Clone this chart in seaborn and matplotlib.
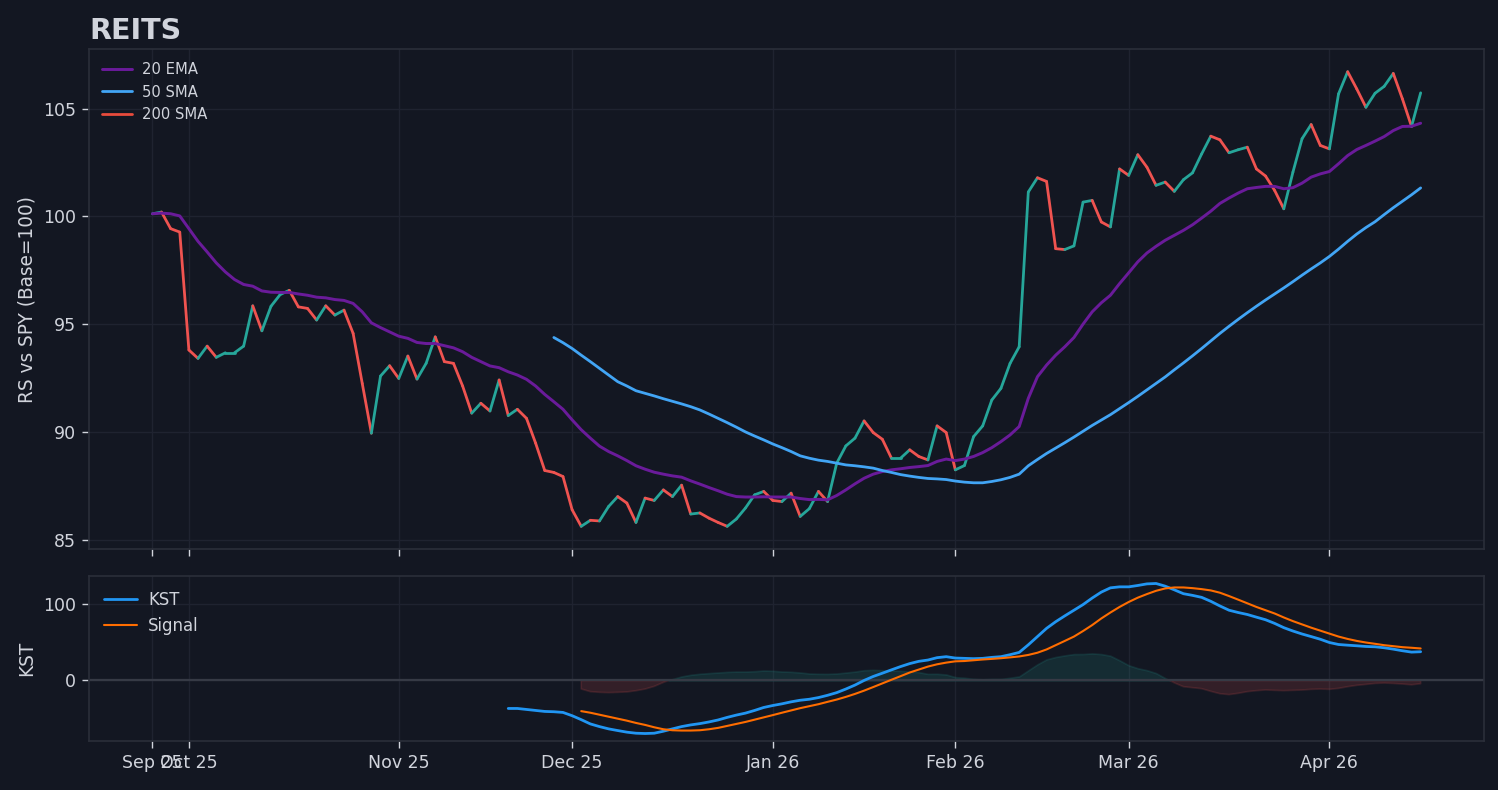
import numpy as np
import matplotlib
matplotlib.use("Agg")
import matplotlib.pyplot as plt
import seaborn as sns

# relative strength of REITS vs SPY, one value per trading day (Sep 25 -> Apr 14)
rs_price = [
    100.12, 100.20, 99.43, 99.27, 93.80, 93.41, 93.98, 93.46, 93.67, 93.67,
    93.98, 95.85, 94.69, 95.83, 96.37, 96.57, 95.80, 95.73, 95.19, 95.85,
    95.42, 95.65, 94.57, 92.25, 89.94, 92.59, 93.07, 92.48, 93.52, 92.45,
    93.18, 94.41, 93.26, 93.18, 92.13, 90.87, 91.33, 90.97, 92.41, 90.76,
    91.05, 90.63, 89.48, 88.21, 88.12, 87.93, 86.39, 85.62, 85.90, 85.87,
    86.54, 87.00, 86.70, 85.80, 86.93, 86.82, 87.31, 87.00, 87.53, 86.19,
    86.24, 86.00, 85.80, 85.62, 85.96, 86.47, 87.08, 87.24, 86.82, 86.77,
    87.16, 86.08, 86.44, 87.24, 86.77, 88.55, 89.35, 89.71, 90.51, 89.97,
    89.66, 88.78, 88.78, 89.17, 88.86, 88.70, 90.28, 89.97, 88.24, 88.44,
    89.78, 90.28, 91.48, 92.02, 93.18, 93.95, 101.13, 101.79, 101.62, 98.50,
    98.46, 98.63, 100.66, 100.74, 99.74, 99.51, 102.20, 101.90, 102.86, 102.28,
    101.44, 101.59, 101.16, 101.70, 102.02, 102.90, 103.72, 103.55, 102.95, 103.09,
    103.21, 102.20, 101.87, 101.20, 100.35, 102.05, 103.60, 104.26, 103.29, 103.13,
    105.68, 106.71, 105.91, 105.06, 105.71, 106.03, 106.63, 105.45, 104.17, 105.73,
]

ema20 = [
    100.12, 100.15, 100.12, 100.02, 99.43, 98.84, 98.35, 97.84, 97.42, 97.07,
    96.84, 96.76, 96.54, 96.48, 96.47, 96.47, 96.40, 96.34, 96.25, 96.22,
    96.14, 96.10, 95.96, 95.57, 95.06, 94.84, 94.64, 94.44, 94.34, 94.15,
    94.10, 94.10, 94.00, 93.90, 93.72, 93.46, 93.26, 93.06, 92.98, 92.79,
    92.64, 92.44, 92.13, 91.74, 91.40, 91.05, 90.56, 90.10, 89.71, 89.34,
    89.09, 88.89, 88.67, 88.43, 88.27, 88.13, 88.04, 87.96, 87.90, 87.73,
    87.58, 87.42, 87.27, 87.11, 87.00, 86.98, 86.98, 86.99, 86.98, 86.98,
    86.98, 86.91, 86.86, 86.87, 86.85, 87.05, 87.31, 87.59, 87.85, 88.04,
    88.16, 88.24, 88.29, 88.35, 88.39, 88.44, 88.63, 88.74, 88.67, 88.74,
    88.86, 89.04, 89.27, 89.55, 89.86, 90.25, 91.56, 92.56, 93.10, 93.56,
    93.95, 94.38, 95.00, 95.57, 95.99, 96.34, 96.88, 97.38, 97.89, 98.30,
    98.61, 98.89, 99.12, 99.35, 99.61, 99.92, 100.24, 100.60, 100.85, 101.08,
    101.28, 101.34, 101.39, 101.39, 101.28, 101.33, 101.54, 101.82, 101.97, 102.08,
    102.44, 102.82, 103.10, 103.29, 103.49, 103.70, 103.98, 104.17, 104.18, 104.32,
]

sma50 = [np.nan] * 44 + [
    94.38, 94.14, 93.87, 93.56, 93.26, 92.95,
    92.64, 92.33, 92.13, 91.91, 91.79, 91.67, 91.54, 91.42, 91.30, 91.17,
    91.02, 90.83, 90.63, 90.43, 90.22, 90.00, 89.81, 89.63, 89.44, 89.27,
    89.09, 88.89, 88.78, 88.69, 88.63, 88.55, 88.47, 88.43, 88.38, 88.32,
    88.21, 88.12, 88.02, 87.95, 87.89, 87.84, 87.82, 87.79, 87.72, 87.67,
    87.64, 87.64, 87.70, 87.78, 87.89, 88.04, 88.43, 88.72, 89.00, 89.25,
    89.50, 89.76, 90.03, 90.30, 90.55, 90.80, 91.08, 91.36, 91.65, 91.95,
    92.25, 92.55, 92.88, 93.20, 93.53, 93.87, 94.22, 94.57, 94.90, 95.22,
    95.53, 95.83, 96.12, 96.40, 96.68, 96.97, 97.27, 97.56, 97.84, 98.14,
    98.48, 98.84, 99.18, 99.48, 99.75, 100.08, 100.40, 100.70, 101.00, 101.32,
]

kst = [np.nan] * 39 + [
    -36.8, -36.8, -38.1, -39.4, -40.7, -41.1, -42.0, -46.3, -51.5, -57.1,
    -60.6, -63.6, -65.8, -67.9, -69.3, -69.7, -69.3, -66.7, -63.6, -60.6,
    -58.4, -56.7, -54.5, -51.9, -48.5, -45.5, -42.9, -39.4, -35.5, -32.9,
    -30.7, -28.1, -26.0, -24.7, -22.5, -19.5, -16.0, -11.3, -6.1, 0.0,
    5.2, 9.5, 13.9, 18.2, 22.1, 25.1, 26.8, 29.9, 31.2, 29.4,
    29.0, 28.6, 29.0, 30.3, 31.2, 33.8, 36.8, 46.8, 57.6, 68.4,
    77.1, 84.8, 92.2, 99.6, 108.2, 116.0, 121.6, 122.9, 122.9, 124.7,
    126.8, 127.3, 123.8, 119.0, 113.9, 111.7, 109.1, 103.9, 97.8, 92.2,
    89.2, 86.6, 83.1, 79.7, 74.9, 69.3, 64.9, 61.0, 57.6, 54.1,
    49.8, 47.2, 46.3, 45.5, 44.6, 44.2, 42.9, 41.1, 39.0, 37.2, 37.7,
]

kst_signal = [np.nan] * 47 + [
    -40.3, -42.4, -45.0, -47.6, -50.2, -52.8, -55.8, -58.4, -61.5, -64.1,
    -65.4, -65.8, -65.8, -65.4, -64.1, -62.3, -59.7, -57.1, -54.5, -51.5,
    -48.5, -45.5, -42.4, -39.4, -36.4, -33.8, -31.2, -28.1, -25.1, -21.6,
    -17.7, -13.4, -8.7, -3.9, 0.9, 5.6, 10.4, 14.3, 18.2, 21.2,
    23.4, 25.1, 25.5, 26.5, 27.5, 28.3, 29.2, 30.3, 31.5, 33.5,
    36.4, 40.7, 46.3, 51.9, 57.6, 64.9, 72.7, 81.4, 89.2, 96.5,
    103.0, 108.7, 113.4, 117.7, 120.8, 122.1, 122.1, 121.2, 119.9, 118.2,
    115.2, 110.8, 106.1, 101.3, 96.5, 92.2, 87.9, 82.7, 77.9, 73.6,
    69.3, 65.4, 61.5, 57.6, 54.5, 51.9, 49.8, 48.1, 46.3, 45.0,
    43.7, 42.9, 42.0,
]

# x axis is trading-day index, labels at first bar and first day of each month
tick_idx = [0, 4, 27, 46, 68, 88, 107, 129]
tick_labels = ["Sep 25", "Oct 25", "Nov 25", "Dec 25", "Jan 26", "Feb 26", "Mar 26", "Apr 26"]

BG = "#131722"
TXT = "#d1d4dc"
GRID = "#1f2330"
EDGE = "#2a2e39"
UP = "#26a69a"
DOWN = "#ef5350"

sns.set_theme(style="dark", rc={
    "figure.facecolor": BG,
    "axes.facecolor": BG,
    "axes.edgecolor": EDGE,
    "axes.labelcolor": TXT,
    "text.color": TXT,
    "xtick.color": TXT,
    "ytick.color": TXT,
    "xtick.bottom": True,
    "ytick.left": True,
    "axes.grid": True,
    "grid.color": GRID,
    "grid.linewidth": 0.8,
    "font.size": 10,
})

x = np.arange(len(rs_price))
price = np.array(rs_price)
kst_arr = np.array(kst)
sig_arr = np.array(kst_signal)

fig, (ax, ax2) = plt.subplots(
    2, 1, sharex=True, figsize=(11.984, 6.32), dpi=125,
    gridspec_kw=dict(height_ratios=[500, 165], hspace=0.081,
                     left=0.0594, right=0.9907, top=0.938, bottom=0.062),
)

# price line, coloured by direction of each step
for i in range(1, len(price)):
    c = UP if price[i] >= price[i - 1] else DOWN
    ax.plot(x[i - 1:i + 1], price[i - 1:i + 1], color=c, lw=1.6,
            solid_capstyle="round", zorder=3)

sns.lineplot(x=x, y=ema20, ax=ax, color="#6a1b9a", lw=1.7, label="20 EMA", zorder=4)
sns.lineplot(x=x, y=sma50, ax=ax, color="#42a5f5", lw=1.6, label="50 SMA", zorder=4)
ax.plot([], [], color="#e84b3c", lw=1.6, label="200 SMA")

ax.set_title("REITS", loc="left", fontsize=16.5, fontweight="bold", color=TXT)
ax.set_ylabel("RS vs SPY (Base=100)", fontsize=10.7)
ax.legend(loc="upper left", frameon=False, fontsize=8.5, labelcolor=TXT,
          handletextpad=0.7, borderaxespad=0.5)

# KST panel
hist = kst_arr - sig_arr
ax2.fill_between(x, 0, hist, where=hist >= 0, interpolate=True, color=UP, alpha=0.15)
ax2.fill_between(x, 0, hist, where=hist < 0, interpolate=True, color=DOWN, alpha=0.15)
ax2.axhline(0, color="#363a45", lw=1.3, zorder=1)
sns.lineplot(x=x, y=kst, ax=ax2, color="#2196f3", lw=1.6, label="KST", zorder=4)
sns.lineplot(x=x, y=kst_signal, ax=ax2, color="#ff6d00", lw=1.2, label="Signal", zorder=4)
ax2.set_ylabel("KST", fontsize=10.7)
ax2.set_yticks([0, 100])
ax2.legend(loc="upper left", frameon=False, fontsize=9.5, labelcolor=TXT,
           handletextpad=0.7)

ax2.set_xticks(tick_idx)
ax2.set_xticklabels(tick_labels)
ax2.set_xlim(-6.95, len(price) - 1 + 6.95)

for a in (ax, ax2):
    for s in a.spines.values():
        s.set_color(EDGE)
        s.set_linewidth(1.0)
    a.tick_params(labelsize=10, length=4, width=0.8, color=TXT)
    a.set_xlabel("")

fig.savefig("out.png", dpi=125, facecolor=BG)
